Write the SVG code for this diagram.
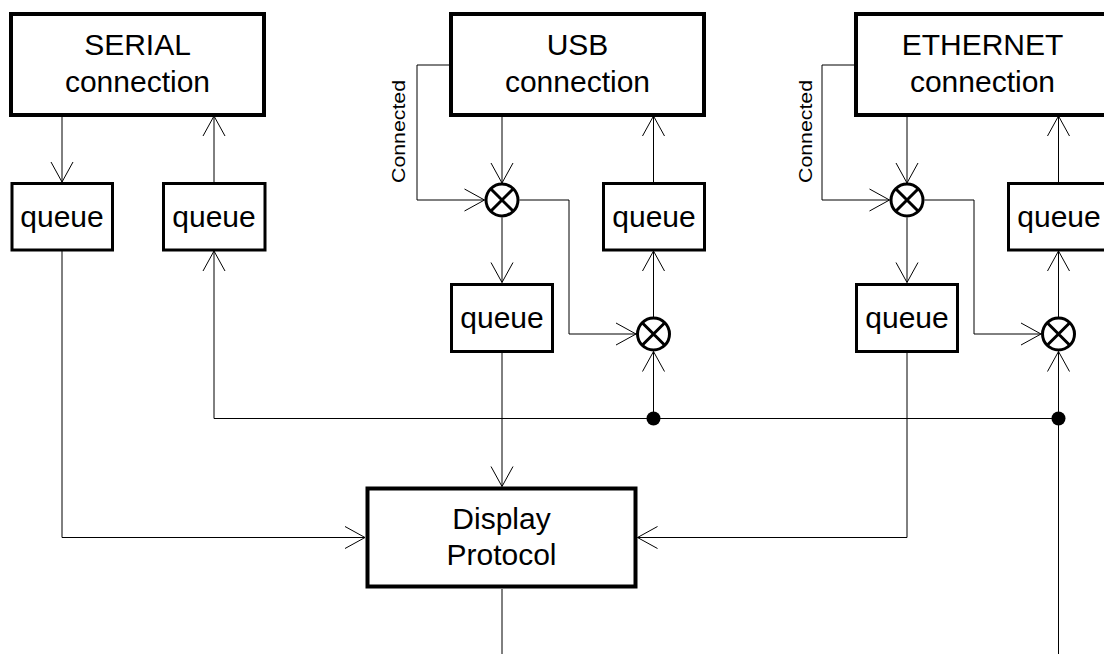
<svg xmlns="http://www.w3.org/2000/svg" width="1104" height="654" viewBox="0 0 1104 654">
  <style>
    .big { fill: #fff; stroke: #000; stroke-width: 4; }
    .q { fill: #fff; stroke: #000; stroke-width: 3; }
    .mux { fill: #fff; stroke: #000; stroke-width: 3; }
    .lbl { font-family: "Liberation Sans", Arial, sans-serif; font-size: 30px; fill: #000; text-anchor: middle; }
    .small { font-family: "Liberation Sans", Arial, sans-serif; font-size: 19px; fill: #000; text-anchor: middle; }
    .wire { fill: none; stroke: #000; stroke-width: 1; }
    .arrow { marker-end: url(#arr); }
  </style>
  <defs>
    <marker id="arr" viewBox="-22 -12 24 24" markerWidth="24" markerHeight="24" refX="0" refY="0" orient="auto" markerUnits="userSpaceOnUse" overflow="visible">
      <path d="M-20,-11 L0,0 L-20,11" fill="none" stroke="#000" stroke-width="1"/>
    </marker>
    <g id="muxsym">
      <circle cx="0" cy="0" r="16" class="mux"/>
      <path d="M-11.3,-11.3 L11.3,11.3 M-11.3,11.3 L11.3,-11.3" stroke="#000" stroke-width="3" fill="none"/>
    </g>
  </defs>

  <rect width="1104" height="654" fill="#fff"/>

  <!-- connectors -->
  <g id="connectors">
    <!-- serial -->
    <path class="wire arrow" d="M62,116 V182"/>
    <path class="wire arrow" d="M214,182 V116"/>
    <path class="wire arrow" d="M62,251 V537.5 H365"/>
    <path class="wire arrow" d="M214,418.5 V251"/>
    <path class="wire" d="M214,418.5 H1058.5"/>
    <!-- usb -->
    <path class="wire arrow" d="M502,116 V183"/>
    <path class="wire arrow" d="M451,65 H417 V200 H484.5"/>
    <path class="wire" d="M519.5,200 H569 V334"/>
    <path class="wire arrow" d="M569,334 H636"/>
    <path class="wire arrow" d="M502,217.5 V282.5"/>
    <path class="wire arrow" d="M502,352 V486.5"/>
    <path class="wire arrow" d="M653.5,317 V251"/>
    <path class="wire arrow" d="M653.5,182 V116"/>
    <path class="wire arrow" d="M653.5,418.5 V351.5"/>
    <!-- ethernet -->
    <path class="wire arrow" d="M907,116 V183"/>
    <path class="wire arrow" d="M856,65 H822 V200 H889.5"/>
    <path class="wire" d="M924.5,200 H974 V334"/>
    <path class="wire arrow" d="M974,334 H1041"/>
    <path class="wire arrow" d="M907,217.5 V282.5"/>
    <path class="wire arrow" d="M907,352 V537.5 H637.5"/>
    <path class="wire arrow" d="M1058.5,317 V251"/>
    <path class="wire arrow" d="M1058.5,182 V116"/>
    <path class="wire arrow" d="M1058.5,654 V351.5"/>
    <!-- display output -->
    <path class="wire" d="M502,589 V654"/>
    <!-- junctions -->
    <circle cx="653.5" cy="418.5" r="7" fill="#000"/>
    <circle cx="1058.5" cy="418.5" r="7" fill="#000"/>
  </g>

  <!-- serial connection -->
  <g id="serial">
    <rect class="big" x="11" y="14" width="253" height="101"/>
    <text class="lbl" x="137.5" y="55">SERIAL</text>
    <text class="lbl" x="137.5" y="92">connection</text>
  </g>
  <g id="serial-rx-queue">
    <rect class="q" x="12" y="183.5" width="100.5" height="66.5"/>
    <text class="lbl" x="62" y="227">queue</text>
  </g>
  <g id="serial-tx-queue">
    <rect class="q" x="163.5" y="183.5" width="101.5" height="66.5"/>
    <text class="lbl" x="214" y="227">queue</text>
  </g>

  <!-- usb connection -->
  <g id="usb">
    <rect class="big" x="451" y="14" width="253" height="101"/>
    <text class="lbl" x="577.5" y="55">USB</text>
    <text class="lbl" x="577.5" y="92">connection</text>
  </g>
  <g id="usb-connected-label">
    <text class="small" transform="translate(405,131.5) rotate(-90)" textLength="103" lengthAdjust="spacingAndGlyphs">Connected</text>
  </g>
  <g id="usb-rx-gate"><use href="#muxsym" x="502" y="200"/></g>
  <g id="usb-tx-gate"><use href="#muxsym" x="653.5" y="334"/></g>
  <g id="usb-rx-queue">
    <rect class="q" x="451.5" y="284.5" width="101" height="67"/>
    <text class="lbl" x="502" y="328">queue</text>
  </g>
  <g id="usb-tx-queue">
    <rect class="q" x="603.5" y="183.5" width="101" height="66.5"/>
    <text class="lbl" x="654" y="227">queue</text>
  </g>

  <!-- ethernet connection -->
  <g id="ethernet">
    <rect class="big" x="856" y="14" width="253" height="101"/>
    <text class="lbl" x="982.5" y="55">ETHERNET</text>
    <text class="lbl" x="982.5" y="92">connection</text>
  </g>
  <g id="ethernet-connected-label">
    <text class="small" transform="translate(812,131.5) rotate(-90)" textLength="103" lengthAdjust="spacingAndGlyphs">Connected</text>
  </g>
  <g id="ethernet-rx-gate"><use href="#muxsym" x="907" y="200"/></g>
  <g id="ethernet-tx-gate"><use href="#muxsym" x="1058.5" y="334"/></g>
  <g id="ethernet-rx-queue">
    <rect class="q" x="856.5" y="284.5" width="101" height="67"/>
    <text class="lbl" x="907" y="328">queue</text>
  </g>
  <g id="ethernet-tx-queue">
    <rect class="q" x="1008.5" y="183.5" width="101" height="66.5"/>
    <text class="lbl" x="1059" y="227">queue</text>
  </g>

  <!-- display protocol -->
  <g id="display-protocol">
    <rect class="big" x="367.5" y="488.5" width="268" height="98"/>
    <text class="lbl" x="501.5" y="529">Display</text>
    <text class="lbl" x="501.5" y="565">Protocol</text>
  </g>
</svg>
